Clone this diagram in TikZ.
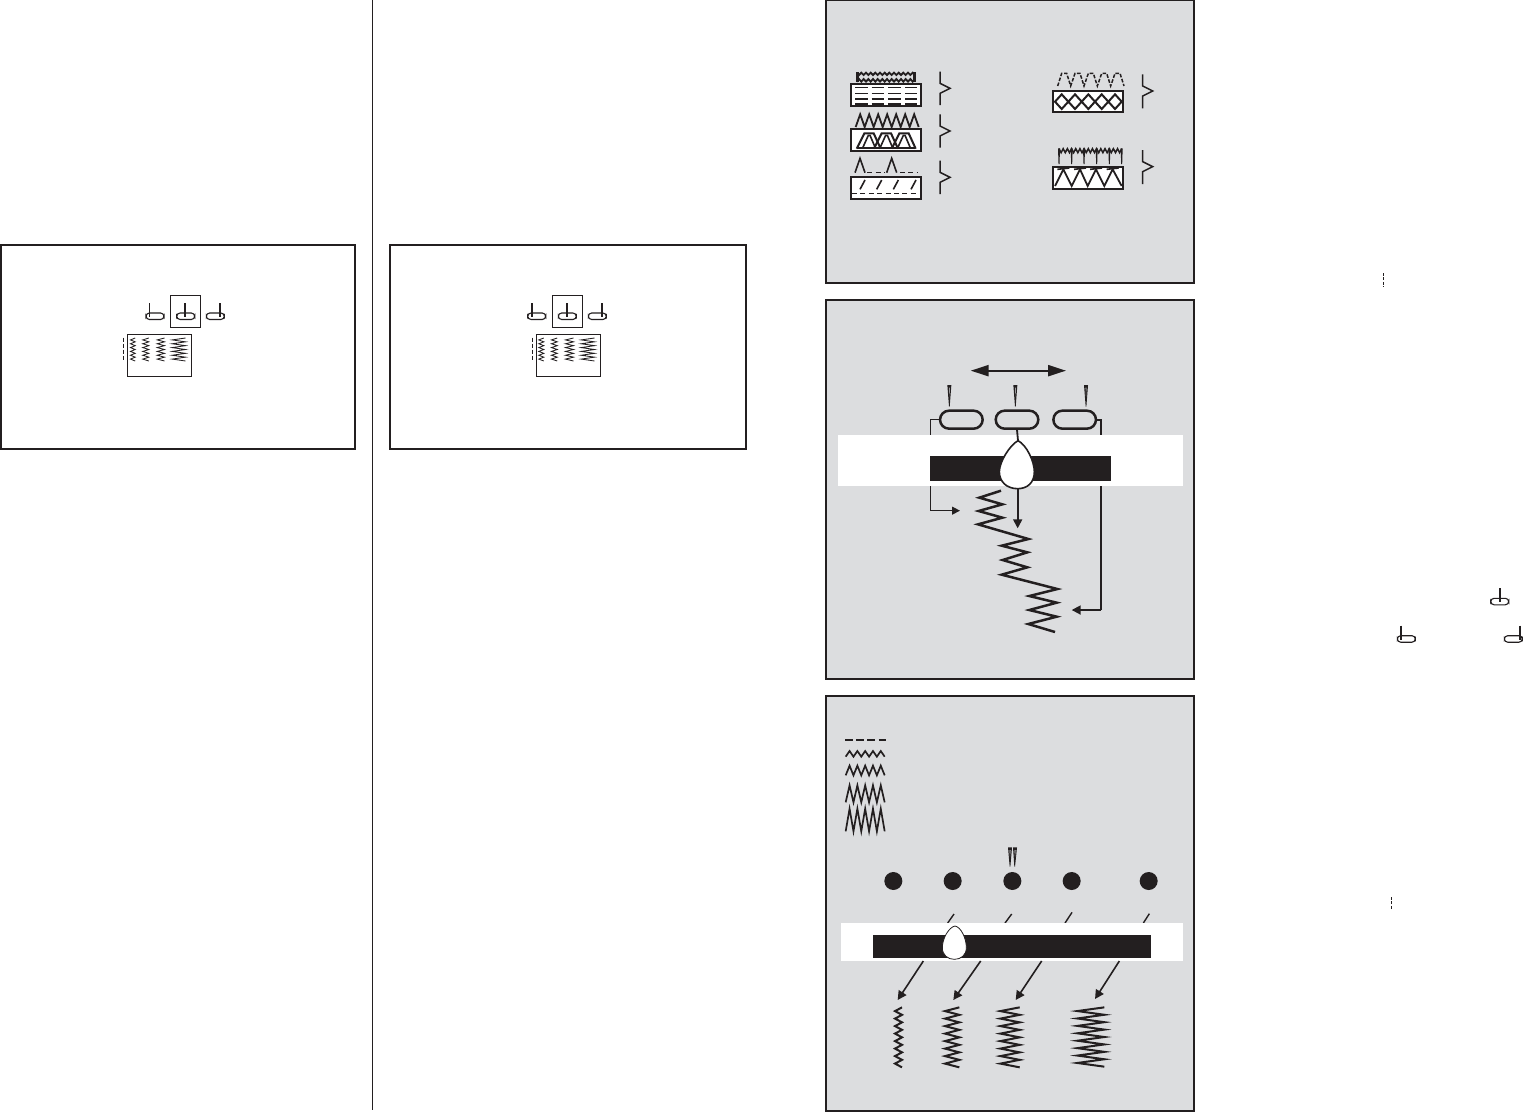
\documentclass[tikz,border=0pt]{standalone}
\usetikzlibrary{arrows.meta,shapes.misc,calc}
\definecolor{ink}{HTML}{231F20}
\definecolor{panelgray}{HTML}{DCDDDF}
\tikzset{
  x=0.5pt,y=-0.5pt,
  zm/.style 2 args={shift={(#1,#2)},x=0.16667pt,y=-0.16667pt},
  panel/.style={draw=ink,line width=1pt,fill=panelgray},
  framebox/.style={draw=ink,line width=1pt},
  thinbox/.style={draw=ink,line width=0.5pt},
  stitch/.style={draw=ink,line width=1pt,line join=miter,miter limit=15},
  fine/.style={draw=ink,line width=0.42pt},
  sbox/.style={draw=ink,line width=1pt,fill=white},
  brace/.style={draw=ink,line width=0.75pt},
  pill/.style={rounded rectangle,draw=ink,line width=1.25pt,minimum width=21.3pt,minimum height=9pt,inner sep=0pt},
  dot/.style={circle,fill=ink,minimum size=9pt,inner sep=0pt},
  link/.style={draw=ink,line width=0.7pt},
  smallarrow/.style={draw=ink,line width=0.5pt,-{Triangle[length=4pt,width=4pt]}},
  midarrow/.style={draw=ink,line width=0.8pt,-{Triangle[length=4.5pt,width=4.5pt]}},
}
% zig-zag running along x: start x, step, number of segments, y at even k, y at odd k
\newcommand{\hzz}[6][stitch]{\draw[#1] (#2,#5) \foreach \k in {1,...,#4}{ -- ({#2+\k*#3},{ifthenelse(mod(\k,2)==0,#5,#6)}) };}
% zig-zag running down: x at even k, x at odd k, y top, y bottom, segments
\newcommand{\vzz}[6][stitch]{\draw[#1] (#3,#4) \foreach \k in {1,...,#6}{ -- ({ifthenelse(mod(\k,2)==0,#3,#2)},{#4+\k*(#5-#4)/#6}) };}
% presser foot icon: oval left, oval y, needle x
\newcommand{\footicon}[3]{%
  \draw[draw=ink,line width=0.55pt,rounded corners=1.7pt] (#1,#2) rectangle ({#1+18},{#2+6.5});
  \draw[draw=ink,line width=0.9pt] (#3,{#2-10}) -- (#3,{#2+4});}
% brace tick
\newcommand{\bracemark}[3]{\draw[brace] (#1,#2) -- (#1,{#2+35}) -- ({#1+30},{#2+50}) -- (#1,{#2+65}) -- (#1,#3);}
% needle
\newcommand{\needle}[2]{%
  \fill[ink] ({#1-6},#2) -- ({#1+6},#2) -- ({#1+1},{#2+65}) -- ({#1-1},{#2+65}) -- cycle;
  \fill[panelgray] ({#1-1},{#2+8}) -- ({#1+1},{#2+8}) -- (#1,{#2+35}) -- cycle;}
\begin{document}
\begin{tikzpicture}
\useasboundingbox (0,0) rectangle (1524,1113);
\fill[white] (0,0) rectangle (1524,1113);

% left column
\draw[draw=ink,line width=0.5pt] (372.5,0) -- (372.5,1110);
\draw[framebox] (1,245) rectangle (355,449);
\draw[framebox] (390,245) rectangle (746,449);

% first settings box
\footicon{146}{313}{149.5}
\draw[thinbox,line width=0.7pt] (170.3,295.7) rectangle (200.7,327.3);
\footicon{176.7}{313}{185.3}
\footicon{206.3}{313}{220}
\draw[thinbox] (127.3,334.3) rectangle (191.7,376.3);
\draw[fine,dash pattern=on 2pt off 1pt] (123.3,337.7) -- (123.3,361);
\vzz[fine]{130.5}{135.2}{338}{361}{12}
\vzz[fine]{142.8}{148.8}{338}{361}{12}
\vzz[fine]{157.2}{164.5}{338}{361}{12}
\vzz[fine]{172.2}{185.5}{338}{361}{12}

% second settings box
\footicon{527.7}{313}{531.7}
\draw[thinbox,line width=0.7pt] (552.3,295.7) rectangle (582.7,327.3);
\footicon{558.3}{313}{567.3}
\footicon{588.3}{313}{602.3}
\draw[thinbox] (536.7,334.3) rectangle (600.7,376.3);
\draw[fine,dash pattern=on 2pt off 1pt] (532.3,337.7) -- (532.3,361);
\vzz[fine]{538.8}{543.8}{338}{361}{12}
\vzz[fine]{551.5}{557.2}{338}{361}{12}
\vzz[fine]{565.5}{573.5}{338}{361}{12}
\vzz[fine]{581.2}{594.5}{338}{361}{12}

% right column marks
\draw[fine,dash pattern=on 1.5pt off 0.7pt] (1383,273) -- (1383,287);
\draw[fine,dash pattern=on 1.5pt off 0.7pt] (1391,897) -- (1391,910);
\footicon{1490.7}{598.3}{1499.7}
\footicon{1397.3}{635.7}{1401.3}
\footicon{1504.3}{635.7}{1520}

% ---------- panel 1
\draw[panel] (826,0) rectangle (1194,283);
\begin{scope}[zm={830}{50}]
  % overlock
  \hzz[draw=ink,line width=0.9pt]{80}{7}{25}{68}{75}
  \hzz[draw=ink,line width=0.9pt]{80}{7}{25}{95}{87}
  \draw[draw=ink,line width=1.5pt] (83,67) -- (83,95) (253,67) -- (253,95);
  \draw[sbox] (62,103) rectangle (274,169);
  \foreach \xa/\xb in {75/113,125/163,175/213,225/262}{
    \foreach \yy in {113,130,147,162}{ \draw[draw=ink,line width=0.7pt] (\xa,\yy) -- (\xb,\yy); } }
  \bracemark{330}{65}{165}
  % stretch
  \hzz[draw=ink,line width=0.9pt]{77}{13.5}{14}{231}{193}
  \draw[sbox] (62,236) rectangle (274,303);
  \foreach \xx in {0,52,105}{
    \draw[draw=ink,line width=1pt] ({\xx+80},296) -- ({\xx+103},250) -- ({\xx+131},250) -- ({\xx+152},296);
    \draw[draw=ink,line width=0.8pt] ({\xx+97},296) -- ({\xx+115},256) -- ({\xx+120},256) -- ({\xx+137},296);
  }
  \draw[draw=ink,line width=0.9pt] (80,295) -- (255,295);
  \bracemark{330}{193}{293}
  % blind hem
  \draw[draw=ink,line width=0.8pt] (75,368) -- (90,325) -- (105,368);
  \draw[draw=ink,line width=0.8pt] (170,368) -- (185,325) -- (200,368);
  \draw[draw=ink,line width=0.8pt,dash pattern=on 2.5pt off 1.7pt] (112,367) -- (165,367);
  \draw[draw=ink,line width=0.8pt,dash pattern=on 2.5pt off 1.7pt] (210,367) -- (262,367);
  \draw[sbox] (62,380) rectangle (274,447);
  \foreach \xa in {90,140,190,243}{ \draw[draw=ink,line width=0.8pt] (\xa,418) -- ({\xa+15},390); }
  \draw[draw=ink,line width=0.8pt,dash pattern=on 2.5pt off 1.7pt] (66,431) -- (264,431);
  \bracemark{330}{332}{432}
  % feather
  \draw[draw=ink,line width=0.75pt,dash pattern=on 1.8pt off 0.8pt]
    (683,108) \foreach \xx in {0,40,80,120,160}{ -- ({\xx+695},70) -- ({\xx+710},70) -- ({\xx+722},108) };
  \draw[sbox] (668,122) rectangle (880,187);
  \draw[draw=ink,line width=1pt] (675,155) -- (695,133) -- (735,177) -- (775,133) -- (815,177) -- (855,133) -- (875,155) -- (855,177) -- (815,133) -- (775,177) -- (735,133) -- (695,177) -- cycle;
  \bracemark{938}{73}{175}
  % overedge
  \foreach \xx in {687,725,762,800,838,875}{
    \fill[ink] ({\xx-3},295) -- ({\xx+3},295) -- ({\xx+1.5},342) -- ({\xx-1.5},342) -- cycle; }
  \hzz[draw=ink,line width=0.75pt]{687}{6.27}{30}{296}{308}
  \draw[sbox] (668,350) rectangle (880,417);
  \draw[draw=ink,line width=0.9pt] (675,408) -- (700,358) -- (725,408) -- (750,358) -- (773,408) -- (798,358) -- (823,408) -- (848,358) -- (875,408);
  \foreach \xx in {700,750,798,848}{ \draw[draw=ink,line width=0.8pt] ({\xx-18},358) -- ({\xx+18},354); }
  \bracemark{938}{300}{402}
\end{scope}

% ---------- panel 2
\draw[panel] (826,300) rectangle (1194,679);
\begin{scope}[zm={830}{350}]
  \coordinate (wl) at (422,62);
  \coordinate (wr) at (708,62);
  \draw[draw=ink,line width=1.1pt,{Triangle[length=9pt,width=5.5pt]}-{Triangle[length=9pt,width=5.5pt]}] (wl) -- (wr);
  \needle{358}{105}
  \needle{556}{105}
  \needle{768}{105}
  \node[pill] (o1) at (394,209) {};
  \node[pill] (o2) at (561,209) {};
  \node[pill] (o3) at (734,209) {};
  \coordinate (dtop) at (564,272);
  \coordinate (dbot) at (563,416);
  \coordinate (ltar) at (390,482);
  \coordinate (rtar) at (725,780);
  \coordinate (mtar) at (563,535);
  \draw[link] (o1.west) -- (301,209) -- (301,482);
  \draw[link,line width=0.9pt] (o3.east) -- (813,209) -- (813,780);
  \fill[white] (24,255) rectangle (1058,407);
  \fill[ink] (300,318) rectangle (843,392);
  \draw[link,line width=0.9pt] (o2.south) -- (dtop);
  \draw[smallarrow] (301,482) -- (ltar);
  \draw[link,line width=0.9pt,-{Triangle[length=4.5pt,width=4.5pt]}] (813,780) -- (rtar);
  \draw[link,line width=0.9pt,-{Triangle[length=4.5pt,width=4.5pt]}] (dbot) -- (mtar);
  \draw[draw=ink,line width=0.8pt,fill=white] (dtop) .. controls (590,285) and (613,335) .. (613,365) .. controls (613,400) and (590,416) .. (dbot) .. controls (530,416) and (508,395) .. (508,365) .. controls (508,335) and (540,285) .. (dtop) -- cycle;
  \draw[stitch,line width=1.25pt,miter limit=10] (513,422) -- (448,443) -- (517,463) -- (446,483) -- (517,503) -- (444,523) -- (595,567) -- (515,587) -- (592,607) -- (518,630) -- (592,652) -- (515,674) -- (682,717) -- (598,738) -- (680,758) -- (598,780) -- (680,800) -- (595,822) -- (675,846);
\end{scope}

% ---------- panel 3
\draw[panel] (826,696) rectangle (1194,1111);
\begin{scope}[zm={835}{725}]
  \draw[draw=ink,line width=1pt,dash pattern=on 4pt off 1.6pt] (30,44) -- (152,44);
  \hzz[draw=ink,line width=0.85pt]{32}{11.7}{10}{95}{78}
  \hzz[draw=ink,line width=0.85pt]{32}{11.7}{10}{151}{122}
  \hzz[draw=ink,line width=0.85pt]{32}{11.7}{10}{232}{181}
  \hzz[draw=ink,line width=0.85pt]{32}{11.7}{10}{319}{251}
  % twin needle
  \fill[ink] (519,367) -- (531,367) -- (526,425) -- (524,425) -- cycle;
  \fill[ink] (534,367) -- (546,367) -- (540,425) -- (538,425) -- cycle;
  \fill[panelgray] (523.5,375) -- (526.5,375) -- (525,395) -- cycle;
  \fill[panelgray] (538.5,375) -- (541.5,375) -- (540,395) -- cycle;
  \node[dot] (d1) at (175,468) {};
  \node[dot] (d2) at (353,468) {};
  \node[dot] (d3) at (532,468) {};
  \node[dot] (d4) at (710,468) {};
  \node[dot] (d5) at (941,468) {};
  \draw[link,line width=0.7pt] (357,567) -- (338,594);
  \draw[link,line width=0.7pt] (530,567) -- (510,594);
  \draw[link,line width=0.7pt] (711,562) -- (690,594);
  \draw[link,line width=0.7pt] (943,566) -- (925,594);
  \fill[white] (18,594) rectangle (1043,707);
  \fill[ink] (114,630) rectangle (948,698);
  \coordinate (etop) at (360,603);
  \coordinate (ebot) at (358,703);
  \draw[draw=ink,line width=0.4pt,fill=white] (etop) .. controls (378,606) and (394,640) .. (394,668) .. controls (394,690) and (378,703) .. (ebot) .. controls (338,703) and (322,690) .. (322,668) .. controls (322,640) and (342,606) .. (etop) -- cycle;
\end{scope}
\begin{scope}[zm={870}{950}]
  \coordinate (a1s) at (160,33); \coordinate (a1e) at (83,150);
  \coordinate (a2s) at (332,33); \coordinate (a2e) at (250,150);
  \coordinate (a3s) at (515,33); \coordinate (a3e) at (437,150);
  \coordinate (a4s) at (748,33); \coordinate (a4e) at (675,147);
  \draw[midarrow] (a1s) -- (a1e);
  \draw[midarrow] (a2s) -- (a2e);
  \draw[midarrow] (a3s) -- (a3e);
  \draw[midarrow] (a4s) -- (a4e);
  \vzz[stitch]{75}{96}{172}{352}{16}
  \vzz[stitch]{225}{268}{172}{352}{16}
  \vzz[stitch]{391}{449}{172}{352}{16}
  \vzz[stitch]{622}{703}{172}{350}{16}
\end{scope}
\end{tikzpicture}
\end{document}
